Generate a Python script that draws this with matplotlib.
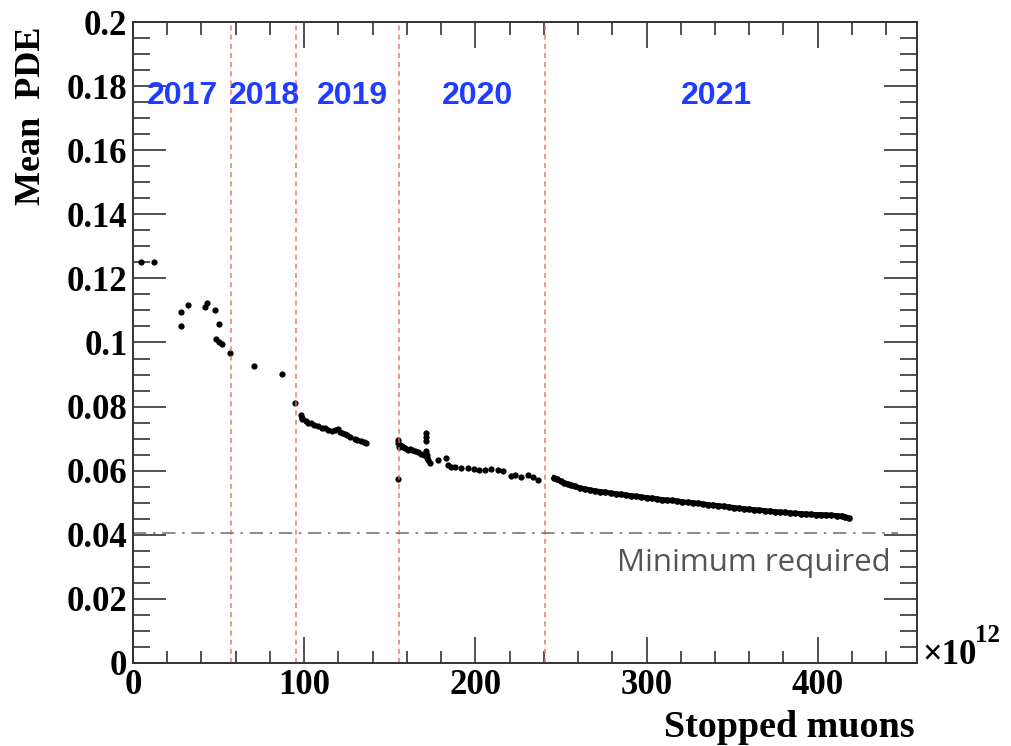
import matplotlib
matplotlib.use("Agg")
import matplotlib.pyplot as plt
from matplotlib.ticker import MultipleLocator, FixedLocator

# ---- data ----
x_2017 = [4.5, 12.1, 27.9, 27.9, 31.9, 42.0, 43.4, 47.7, 50.1, 48.5, 50.1, 52.2, 56.8]
y_2017 = [0.1251, 0.1251, 0.1095, 0.1050, 0.1117, 0.1110, 0.1124, 0.1100, 0.1057, 0.1010, 0.1003, 0.0995, 0.0968]
x_2018 = [70.9, 86.8]
y_2018 = [0.0926, 0.0903]
x_2019 = [94.6, 98.0, 98.5, 99.0, 101.0, 102.4, 104.0, 106.0, 108.0, 110.3, 112.0, 114.0, 116.0,
          118.0, 119.9, 121.0, 122.0, 123.8, 125.0, 127.0, 129.6, 131.0, 133.0, 135.0, 136.3]
y_2019 = [0.0810, 0.0775, 0.0765, 0.0760, 0.0755, 0.0750, 0.0748, 0.0743, 0.0739, 0.0733, 0.0732, 0.0728, 0.0725,
          0.0727, 0.0729, 0.0722, 0.0718, 0.0714, 0.0710, 0.0705, 0.0699, 0.0696, 0.0693, 0.0690, 0.0687]
x_2020 = [155.0, 155.0, 155.0, 155.3, 156.0, 157.0, 158.0, 159.0, 160.7, 162.0, 163.0, 165.0, 166.5, 168.0,
          170.0, 171.0, 171.0, 171.0, 171.0, 171.5, 172.0, 172.5, 173.3, 178.1, 183.0, 184.0, 186.0, 188.0,
          191.8, 195.5, 199.5, 202.0, 205.4, 209.3, 213.1, 216.0, 220.9, 222.9, 226.8, 230.6, 233.5, 236.5]
y_2020 = [0.0573, 0.0696, 0.0685, 0.0675, 0.0680, 0.0678, 0.0675, 0.0670, 0.0665, 0.0668, 0.0664, 0.0660, 0.0659, 0.0652,
          0.0648, 0.0717, 0.0705, 0.0694, 0.0660, 0.0650, 0.0641, 0.0633, 0.0623, 0.0633, 0.0639, 0.0618, 0.0613, 0.0610,
          0.0607, 0.0607, 0.0604, 0.0603, 0.0602, 0.0604, 0.0602, 0.0600, 0.0583, 0.0587, 0.0581, 0.0587, 0.0579, 0.0571]
x_2021 = [246, 248, 250, 252, 254, 256, 258, 261, 264, 267, 270, 273, 276, 279, 282, 285, 288, 291, 294, 297,
          300, 303, 306, 309, 312, 315, 318, 321, 324, 327, 330, 333, 336, 339, 342, 345, 348, 351, 354, 357,
          360, 363, 366, 369, 372, 375, 378, 381, 384, 387, 390, 393, 396, 399, 402, 405, 408, 411, 414, 416, 418]
y_2021 = [0.0578, 0.0573, 0.0567, 0.0562, 0.0558, 0.0554, 0.0551, 0.0546, 0.0543, 0.0540, 0.0537, 0.0535, 0.0533,
          0.0530, 0.0528, 0.0526, 0.0524, 0.0522, 0.0520, 0.0518, 0.0516, 0.0514, 0.0512, 0.0510, 0.0508, 0.0507,
          0.0505, 0.0503, 0.0501, 0.0500, 0.0498, 0.0496, 0.0494, 0.0492, 0.0491, 0.0489, 0.0487, 0.0485, 0.0483,
          0.0481, 0.0480, 0.0478, 0.0477, 0.0475, 0.0474, 0.0472, 0.0471, 0.0470, 0.0468, 0.0467, 0.0466, 0.0465,
          0.0464, 0.0463, 0.0463, 0.0462, 0.0461, 0.0460, 0.0458, 0.0455, 0.0452]

year_boundaries = [57, 95, 155.5, 240.5]
year_labels = ["2017", "2018", "2019", "2020", "2021"]
year_label_x = [29, 77, 128, 201, 341]
minimum_required = 0.0405
x_ticks = [0, 100, 200, 300, 400]
y_ticks = [0, 0.02, 0.04, 0.06, 0.08, 0.1, 0.12, 0.14, 0.16, 0.18, 0.2]
y_tick_labels = ["0", "0.02", "0.04", "0.06", "0.08", "0.1", "0.12", "0.14", "0.16", "0.18", "0.2"]

serif = "Liberation Serif"

fig = plt.figure(figsize=(10.12, 7.46), dpi=100)
ax = fig.add_axes([0.1314, 0.1113, 0.7747, 0.8592])
ax.set_xlim(0, 458)
ax.set_ylim(0, 0.2)

for xs, ys in [(x_2017, y_2017), (x_2018, y_2018), (x_2019, y_2019), (x_2020, y_2020)]:
    ax.plot(xs, ys, linestyle="none", marker="o", markersize=4.5, color="black", markeredgewidth=0)
ax.plot(x_2021, y_2021, linestyle="-", linewidth=3.6, marker="o", markersize=4.8, color="black",
        markeredgewidth=0)

for xb in year_boundaries:
    ax.axvline(xb, color="#f06a6a", linestyle=(0, (3, 2.5)), linewidth=1.2, alpha=0.85)

ax.plot([0, 447], [minimum_required, minimum_required], color="#777777", linewidth=1.2,
        linestyle=(0, (8, 4, 1.5, 4)))
ax.text(442.8, 0.0312, "Minimum required", ha="right", va="center", fontsize=22.5,
        color="#555555", family="Open Sans")

for lab, xl in zip(year_labels, year_label_x):
    ax.text(xl, 0.1770, lab, ha="center", va="center", fontsize=23, fontweight="bold",
            color="#1f3cff", family="Liberation Sans")

ax.xaxis.set_major_locator(FixedLocator(x_ticks))
ax.xaxis.set_minor_locator(MultipleLocator(20))
ax.yaxis.set_major_locator(FixedLocator(y_ticks))
ax.yaxis.set_minor_locator(MultipleLocator(0.005))
ax.set_xticklabels([str(v) for v in x_ticks])
ax.set_yticklabels(y_tick_labels)

ax.tick_params(which="both", direction="in", top=True, right=True, color="#333333", width=1.2)
ax.tick_params(axis="y", which="major", length=24)
ax.tick_params(axis="y", which="minor", length=12)
ax.tick_params(axis="x", which="major", length=19)
ax.tick_params(axis="x", which="minor", length=9)
ax.tick_params(axis="x", which="major", pad=4)
ax.tick_params(axis="y", which="major", pad=4)
for lbl in ax.get_xticklabels() + ax.get_yticklabels():
    lbl.set_fontfamily(serif)
    lbl.set_fontweight("bold")
    lbl.set_fontsize(25)
for sp in ax.spines.values():
    sp.set_color("#333333")
    sp.set_linewidth(1.4)

fig.text(0.031, 0.965, "Mean  PDE", rotation=90, ha="center", va="top", fontsize=26,
         fontweight="bold", family=serif)
fig.text(0.904, 0.025, "Stopped muons", ha="right", va="center", fontsize=27.4,
         fontweight="bold", family=serif)
fig.text(0.911, 0.110, "\u00d710", ha="left", va="baseline", fontsize=25,
         fontweight="bold", family=serif)
fig.text(0.963, 0.140, "12", ha="left", va="baseline", fontsize=18,
         fontweight="bold", family=serif)

fig.savefig("out.png", dpi=100)
